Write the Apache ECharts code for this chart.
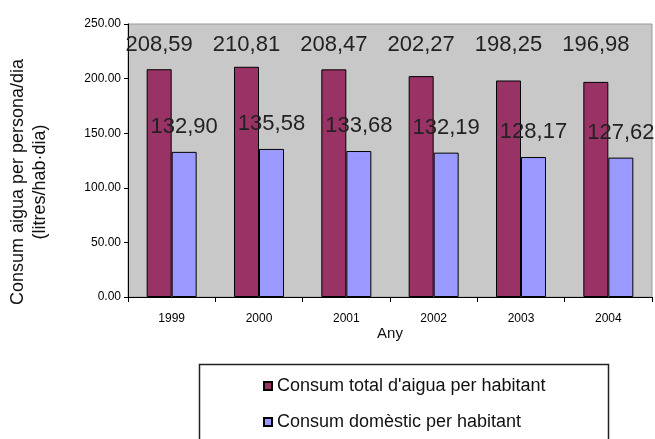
<!DOCTYPE html>
<html>
<head>
<meta charset="utf-8">
<script src="https://cdn.jsdelivr.net/npm/echarts@6/dist/echarts.min.js"></script>
<style>html,body{margin:0;padding:0;background:#fff}#c{width:655px;height:439px}</style>
</head>
<body>
<div id="c"></div>
<script>
const categories = ['1999', '2000', '2001', '2002', '2003', '2004'];
const totalValues = [208.59, 210.81, 208.47, 202.27, 198.25, 196.98];
const domesticValues = [132.90, 135.58, 133.68, 132.19, 128.17, 127.62];
const seriesNames = ["Consum total d'aigua per habitant", 'Consum domèstic per habitant'];
const yTitle = 'Consum aigua per persona/dia\n(litres/hab·dia)';
const xTitle = 'Any';
const totalLabelLevel = 231; // value level where Excel placed the top row of labels

const chart = echarts.init(document.getElementById('c'));
const fmtComma = p => p.value.toFixed(2).replace('.', ',');
const sans = "'Liberation Sans', Arial, sans-serif";
chart.setOption({
  animation: false,
  grid: {left: 128, top: 24, right: 3, bottom: 142, show: true, backgroundColor: '#c8c8c8', borderColor: '#9a9a9a', borderWidth: 1},
  xAxis: {
    type: 'category', data: categories,
    name: xTitle, nameLocation: 'middle', nameGap: 29, nameMoveOverlap: false,
    nameTextStyle: {fontFamily: sans, fontSize: 15, color: '#111'},
    axisLine: {lineStyle: {color: '#000', width: 1}},
    axisTick: {show: true, length: 5, lineStyle: {color: '#000'}},
    axisLabel: {fontFamily: sans, fontSize: 12, color: '#000', margin: 16}
  },
  yAxis: {
    type: 'value', min: 0, max: 250, interval: 50,
    axisLine: {show: true, lineStyle: {color: '#000', width: 1}},
    axisTick: {show: true, length: 4, lineStyle: {color: '#000'}},
    splitLine: {show: false},
    axisLabel: {fontFamily: sans, fontSize: 12, color: '#000', margin: 7, formatter: v => v.toFixed(2)}
  },
  legend: {
    orient: 'vertical', left: 258, top: 372, itemWidth: 8, itemHeight: 8, itemGap: 18,
    icon: 'rect',
    textStyle: {fontFamily: sans, fontSize: 18, color: '#111'},
    data: seriesNames
  },
  graphic: [
    {type: 'rect', left: 197, top: 362, shape: {width: 409, height: 90}, style: {fill: 'none', stroke: '#222', lineWidth: 1.5}},
    {type: 'text', rotation: Math.PI / 2, x: 29, y: 182,
      style: {text: yTitle, fontFamily: sans, fontSize: 18, fill: '#111', align: 'center', verticalAlign: 'middle', lineHeight: 22}}
  ],
  series: [
    {
      name: seriesNames[0], type: 'bar', data: totalValues,
      barWidth: 25, barGap: '0%',
      itemStyle: {color: '#993366', borderColor: '#000', borderWidth: 1},
      label: {show: true, position: 'top', distance: 20, fontFamily: sans, fontSize: 22, color: '#222', formatter: fmtComma},
      labelLayout: function (params) {
        try {
          const y = chart.convertToPixel({yAxisIndex: 0}, totalLabelLevel);
          if (isFinite(y)) return {x: params.rect.x + params.rect.width / 2, y: y, align: 'center', verticalAlign: 'middle'};
        } catch (e) {}
        return {};
      }
    },
    {
      name: seriesNames[1], type: 'bar', data: domesticValues,
      barWidth: 25,
      itemStyle: {color: '#9999ff', borderColor: '#000', borderWidth: 1},
      label: {show: true, position: 'top', distance: 14, fontFamily: sans, fontSize: 22, color: '#222', formatter: fmtComma}
    }
  ]
});
</script>
</body>
</html>
